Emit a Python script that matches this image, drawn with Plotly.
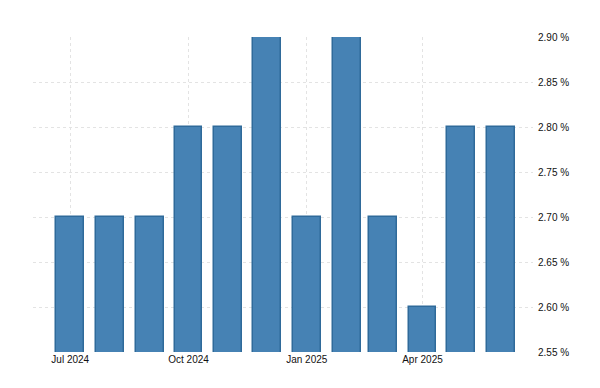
import plotly.graph_objects as go

months = ["2024-07-01", "2024-08-01", "2024-09-01", "2024-10-01", "2024-11-01", "2024-12-01",
          "2025-01-01", "2025-02-01", "2025-03-01", "2025-04-01", "2025-05-01", "2025-06-01"]
values = [2.70, 2.70, 2.70, 2.80, 2.80, 2.90, 2.70, 2.90, 2.70, 2.60, 2.80, 2.80]
y_ticks = [2.55, 2.60, 2.65, 2.70, 2.75, 2.80, 2.85, 2.90]
x_ticks = ["2024-07-01", "2024-10-01", "2025-01-01", "2025-04-01"]
x_tick_labels = ["Jul 2024", "Oct 2024", "Jan 2025", "Apr 2025"]

day_ms = 86400000
fig = go.Figure(go.Bar(
    x=months, y=values,
    width=[21.7 * day_ms] * len(months),
    marker=dict(color="#4682b4", line=dict(color="#2f6a9a", width=1.5)),
    hoverinfo="x+y",
))

grid = "#e3e3e3"
fig.update_layout(
    width=600, height=388,
    margin=dict(l=33, r=67, t=37, b=36),
    paper_bgcolor="white", plot_bgcolor="white",
    showlegend=False,
    font=dict(family="Liberation Sans, Arial, sans-serif", size=10, color="#111"),
    bargap=0,
    xaxis=dict(
        type="date",
        range=["2024-06-02", "2025-06-26"],
        tickvals=x_ticks, ticktext=x_tick_labels,
        showgrid=True, gridcolor=grid, griddash="dot", gridwidth=1,
        showline=False, zeroline=False, ticks="",
        tickfont=dict(size=10, color="#111"),
    ),
    yaxis=dict(
        side="right",
        range=[2.55, 2.90],
        tickvals=y_ticks,
        ticktext=[f"{v:.2f} %" for v in y_ticks],
        showgrid=True, gridcolor=grid, griddash="dot", gridwidth=1,
        showline=False, zeroline=False, ticks="",
        ticklabelstandoff=4,
        tickfont=dict(size=10, color="#111"),
    ),
)

fig.write_html("out.html")
